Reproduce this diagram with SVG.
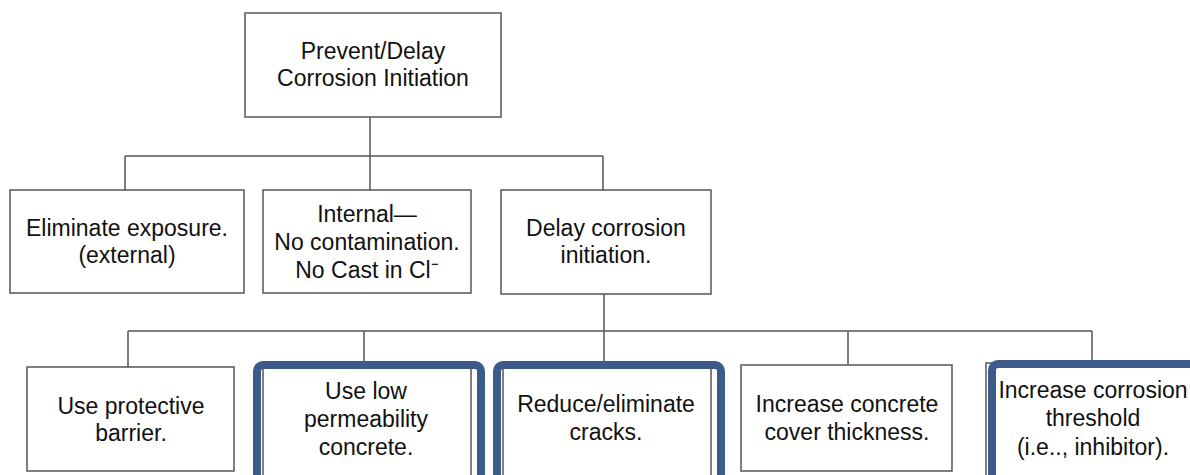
<svg xmlns="http://www.w3.org/2000/svg" width="1190" height="475" viewBox="0 0 1190 475">
<style>
.box{fill:#ffffff;stroke:#555555;stroke-width:1.5}
.hl{fill:none;stroke:#3C5B8B;stroke-width:8}
.ln{fill:none;stroke:#555555;stroke-width:1.5}
text{font-family:"Liberation Sans",Arial,sans-serif;font-size:23px;fill:#111111;text-anchor:middle}
</style>
<rect width="1190" height="475" fill="#ffffff"/>
<g id="connectors">
<path class="ln" d="M370 117V156M125 156H603M125 156V190M370 156V190M603 156V190"/>
<path class="ln" d="M604 294V331M128 331H1092M128 331V367M364 331V365M604 331V365M848 331V365M1092 331V362"/>
</g>
<g id="n0"><rect class="box" x="245" y="13" width="256" height="104"/>
<text x="373" y="59">Prevent/Delay</text><text x="373" y="86">Corrosion Initiation</text></g>
<g id="n1"><rect class="box" x="10" y="190" width="234" height="103"/>
<text x="127" y="236">Eliminate exposure.</text><text x="127" y="263">(external)</text></g>
<g id="n2"><rect class="box" x="263" y="190" width="208" height="103"/>
<text x="367" y="222">Internal—</text><text x="367" y="250">No contamination.</text><text x="367" y="278">No Cast in Cl⁻</text></g>
<g id="n3"><rect class="box" x="501" y="190" width="210" height="104"/>
<text x="606" y="236">Delay corrosion</text><text x="606" y="263">initiation.</text></g>
<g id="n4"><rect class="box" x="27" y="367" width="207" height="104"/>
<text x="131" y="414">Use protective</text><text x="131" y="441">barrier.</text></g>
<g id="n5"><rect class="box" x="263" y="366" width="208" height="112"/>
<rect class="hl" x="257" y="365" width="224" height="120" rx="6"/>
<text x="366" y="399">Use low</text><text x="366" y="427">permeability</text><text x="366" y="455">concrete.</text></g>
<g id="n6"><rect class="box" x="503" y="366" width="208" height="112"/>
<rect class="hl" x="497" y="365" width="224" height="120" rx="6"/>
<text x="606" y="412">Reduce/eliminate</text><text x="606" y="440">cracks.</text></g>
<g id="n7"><rect class="box" x="741" y="365" width="211" height="106"/>
<text x="847" y="412">Increase concrete</text><text x="847" y="440">cover thickness.</text></g>
<g id="n8"><rect class="box" x="986" y="363" width="220" height="115"/>
<rect class="hl" x="992" y="364" width="220" height="121" rx="6"/>
<text x="1093" y="398">Increase corrosion</text><text x="1093" y="426">threshold</text><text x="1093" y="455">(i.e.., inhibitor).</text></g>
</svg>
